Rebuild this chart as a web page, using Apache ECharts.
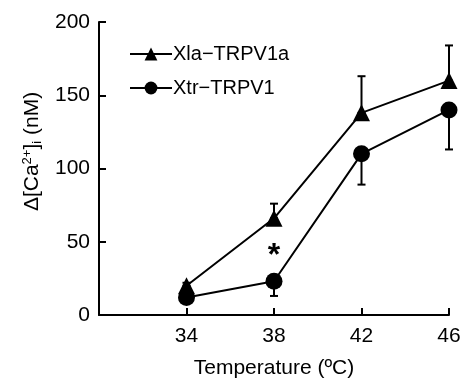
<!DOCTYPE html>
<html>
<head>
<meta charset="utf-8">
<script src="https://cdn.jsdelivr.net/npm/echarts@6/dist/echarts.min.js"></script>
<style>
  html, body { margin: 0; padding: 0; background: #fff; }
  #chart { width: 463px; height: 378px; }
</style>
</head>
<body>
<div id="chart"></div>
<script>
const temperatures = [34, 38, 42, 46];
const xlaMean = [20, 66, 138, 160];
const xlaErrTop = [22, 76, 163, 184];
const xtrMean = [12, 23, 110, 140];
const xtrErrLow = [10, 13, 89, 113];
const yTicks = [0, 50, 100, 150, 200];
const xTickLabels = ['34', '38', '42', '46'];
const starPoint = [38, 46];

const font = 'Liberation Sans, Arial, sans-serif';

const xlaErr = temperatures.map((t, i) => [t, xlaMean[i], xlaErrTop[i]]);
const xtrErr = temperatures.map((t, i) => [t, xtrErrLow[i], xtrMean[i]]);

const errorBar = (params, api) => {
  const x = api.value(0);
  const lo = api.coord([x, api.value(1)]);
  const hi = api.coord([x, api.value(2)]);
  const cap = 4;
  const style = { stroke: '#000', lineWidth: 2 };
  return {
    type: 'group',
    children: [
      { type: 'line', shape: { x1: lo[0], y1: lo[1], x2: hi[0], y2: hi[1] }, style },
      { type: 'line', shape: { x1: hi[0] - cap, y1: hi[1], x2: hi[0] + cap, y2: hi[1] }, style },
      { type: 'line', shape: { x1: lo[0] - cap, y1: lo[1], x2: lo[0] + cap, y2: lo[1] }, style }
    ]
  };
};

const chart = echarts.init(document.getElementById('chart'));
chart.setOption({
  animation: false,
  backgroundColor: '#fff',
  textStyle: { fontFamily: font, color: '#000' },
  grid: { left: 99, right: 14, top: 22, bottom: 63, outerBoundsMode: 'none', containLabel: false },
  legend: {
    orient: 'vertical',
    left: 124,
    top: 39,
    itemWidth: 42,
    itemHeight: 16,
    itemGap: 14,
    textStyle: { fontSize: 20, color: '#000', fontFamily: font, padding: [0, 0, 0, -4] },
    data: ['Xla\u2212TRPV1a', 'Xtr\u2212TRPV1']
  },
  xAxis: {
    type: 'value',
    min: 30,
    max: 46,
    interval: 4,
    name: 'Temperature (\u00baC)',
    nameLocation: 'middle',
    nameGap: 43,
    nameTextStyle: { fontSize: 21, color: '#000', fontFamily: font },
    axisLine: { lineStyle: { color: '#000', width: 2 } },
    axisTick: { inside: true, length: 7, lineStyle: { color: '#000', width: 2 } },
    axisLabel: {
      fontSize: 21, color: '#000', margin: 11,
      formatter: v => xTickLabels.includes(String(v)) ? String(v) : ''
    },
    splitLine: { show: false }
  },
  yAxis: {
    type: 'value',
    min: yTicks[0],
    max: yTicks[yTicks.length - 1],
    interval: 50,
    name: '{n|\u0394[Ca}{sup|2+}{n|]}{sub|i}{n| (nM)}',
    nameLocation: 'middle',
    nameGap: 53,
    nameTextStyle: {
      padding: [0, 0, 0, 34],
      rich: {
        n: { fontSize: 21, color: '#000', fontFamily: font },
        sup: { fontSize: 13, color: '#000', fontFamily: font, verticalAlign: 'bottom', padding: [0, 0, 10, 0] },
        sub: { fontSize: 13, color: '#000', fontFamily: font, verticalAlign: 'top', padding: [10, 0, 0, 0] }
      }
    },
    axisLine: { show: true, lineStyle: { color: '#000', width: 2 } },
    axisTick: { show: true, inside: true, length: 7, lineStyle: { color: '#000', width: 2 } },
    axisLabel: { fontSize: 21, color: '#000', margin: 9 },
    splitLine: { show: false }
  },
  series: [
    {
      type: 'custom',
      renderItem: errorBar,
      data: xlaErr,
      silent: true,
      z: 1
    },
    {
      type: 'custom',
      renderItem: errorBar,
      data: xtrErr,
      silent: true,
      z: 1
    },
    {
      name: 'Xla\u2212TRPV1a',
      type: 'line',
      data: temperatures.map((t, i) => [t, xlaMean[i]]),
      symbol: 'triangle',
      symbolSize: 17,
      itemStyle: { color: '#000' },
      lineStyle: { color: '#000', width: 2 },
      z: 3
    },
    {
      name: 'Xtr\u2212TRPV1',
      type: 'line',
      data: temperatures.map((t, i) => [t, xtrMean[i]]),
      symbol: 'circle',
      symbolSize: 17,
      itemStyle: { color: '#000' },
      lineStyle: { color: '#000', width: 2 },
      z: 3
    },
    {
      type: 'scatter',
      data: [starPoint],
      symbolSize: 1,
      silent: true,
      itemStyle: { color: 'transparent', opacity: 1 },
      label: {
        show: true,
        position: 'inside',
        offset: [0, 9],
        formatter: '*',
        fontSize: 32,
        fontWeight: 'bold',
        color: '#000',
        opacity: 1,
        fontFamily: font
      }
    }
  ]
});
</script>
</body>
</html>
